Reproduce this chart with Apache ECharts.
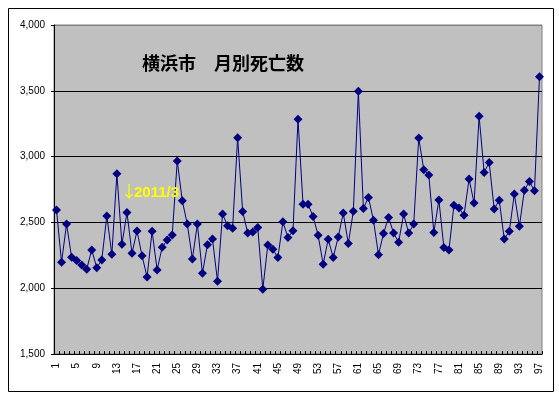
<!DOCTYPE html>
<html>
<head>
<meta charset="utf-8">
<script src="https://cdn.jsdelivr.net/npm/echarts@6/dist/echarts.min.js"></script>
<style>
html,body{margin:0;padding:0;background:#fff;}
#main{width:559px;height:396px;}
</style>
</head>
<body>
<div id="main"></div>
<script>
const categories = [];
for (let i = 1; i <= 97; i++) categories.push(String(i));

const deaths = [
  2595, 2197, 2488, 2235, 2210, 2177, 2144, 2291, 2156, 2215,
  2549, 2258, 2869, 2334, 2575, 2266, 2435, 2247, 2085, 2433,
  2139, 2311, 2366, 2404, 2967, 2664, 2487, 2222, 2487, 2114,
  2330, 2373, 2053, 2563, 2474, 2455, 3144, 2583, 2420, 2428,
  2461, 1992, 2329, 2296, 2233, 2504, 2385, 2436, 3284, 2638,
  2638, 2545, 2403, 2182, 2372, 2233, 2390, 2571, 2340, 2584,
  3496, 2606, 2690, 2517, 2254, 2416, 2538, 2419, 2350, 2563,
  2419, 2487, 3142, 2900, 2860, 2424, 2670, 2310, 2290, 2631,
  2609, 2555, 2829, 2647, 3306, 2880, 2956, 2601, 2669, 2373,
  2432, 2715, 2470, 2745, 2811, 2740, 3607
];

const yTicks = [1500, 2000, 2500, 3000, 3500, 4000];
const titleText = '横浜市　月別死亡数';
const noteText = '2011/3';

const chart = echarts.init(document.getElementById('main'), null, {renderer: 'canvas'});
chart.setOption({
  animation: false,
  backgroundColor: '#ffffff',
  grid: {
    left: 54, top: 25, width: 488, height: 329,
    show: true, backgroundColor: '#C0C0C0', borderColor: '#808080', borderWidth: 1
  },
  xAxis: {
    type: 'category',
    data: categories,
    boundaryGap: true,
    axisLine: {show: true, lineStyle: {color: '#000', width: 1}},
    axisTick: {show: true, inside: true, length: 3, interval: 0, lineStyle: {color: '#000'}},
    axisLabel: {
      interval: 3, rotate: 90, color: '#000', fontSize: 10,
      fontFamily: 'Liberation Sans, Arial, sans-serif', margin: 9
    },
    splitLine: {show: false}
  },
  yAxis: {
    type: 'value',
    min: yTicks[0], max: yTicks[yTicks.length - 1], interval: 500,
    axisLine: {show: true, lineStyle: {color: '#000', width: 1}},
    axisTick: {show: true, inside: false, length: 3, lineStyle: {color: '#000'}},
    axisLabel: {
      color: '#000', fontSize: 10, margin: 9,
      fontFamily: 'Liberation Sans, Arial, sans-serif',
      formatter: v => v.toLocaleString('en-US')
    },
    splitLine: {show: true, lineStyle: {color: ['#000', '#000', '#000', '#000', '#000', '#808080'], width: 1}}
  },
  series: [{
    type: 'line',
    data: deaths,
    symbol: 'diamond',
    symbolSize: 9,
    showAllSymbol: true,
    lineStyle: {color: '#000080', width: 1},
    itemStyle: {color: '#000080', borderWidth: 0}
  }],
  graphic: [
    {type: 'rect', left: 6, top: 6, shape: {width: 545, height: 383},
     style: {fill: 'none', stroke: '#000', lineWidth: 1}, silent: true, z: -1},
    {type: 'text', left: 142, top: 54,
     style: {text: titleText, fill: '#000', fontSize: 18, fontWeight: 'bold',
             fontFamily: 'Noto Sans CJK JP, sans-serif'}, z: 10},
    {type: 'text', left: 121, top: 183,
     style: {text: '↓', fill: '#FFFF00', fontSize: 16,
             fontFamily: 'Noto Sans CJK JP, sans-serif'}, z: 10},
    {type: 'text', left: 134, top: 185,
     style: {text: noteText, fill: '#FFFF00', fontSize: 15, fontWeight: 'bold',
             fontFamily: 'Liberation Sans, Arial, sans-serif'}, z: 10}
  ]
});
</script>
</body>
</html>
